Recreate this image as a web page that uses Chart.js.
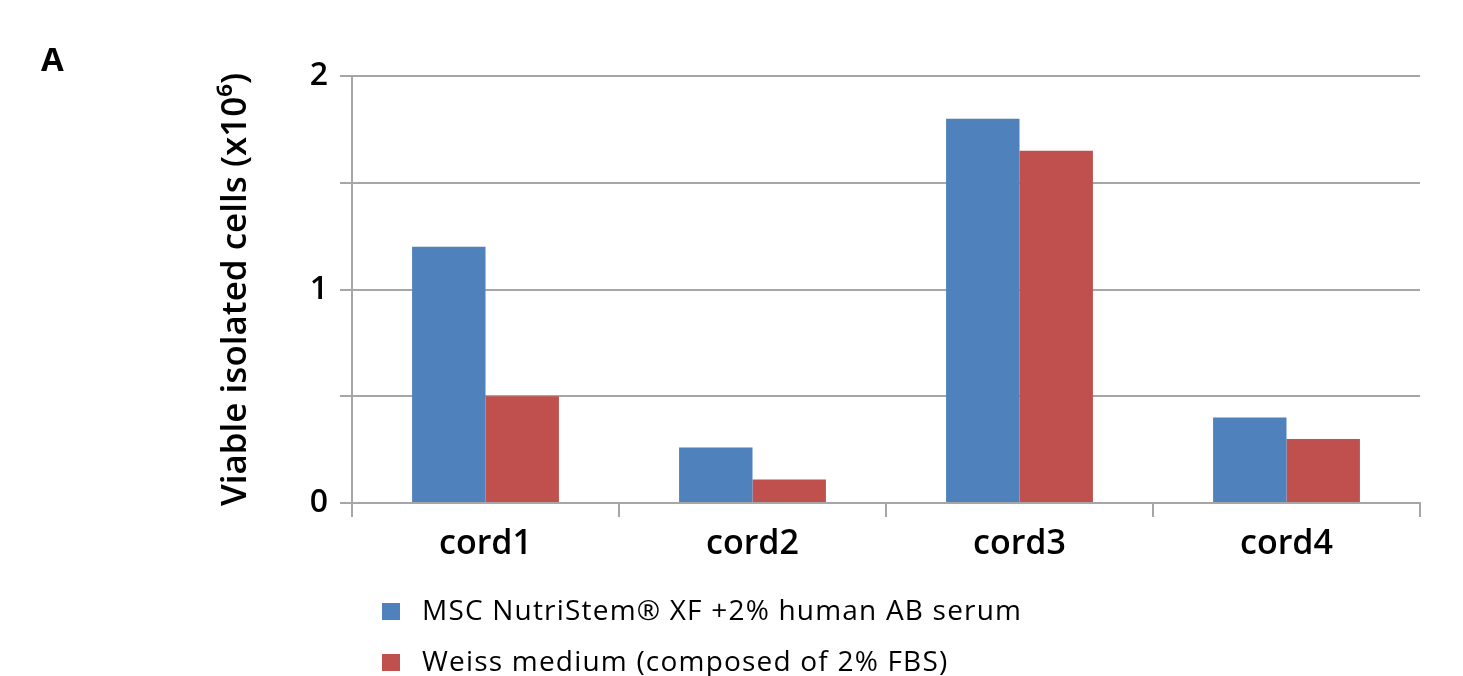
<!DOCTYPE html>
<html>
<head>
<meta charset="utf-8">
<script src="https://cdn.jsdelivr.net/npm/chart.js@4.4.1/dist/chart.umd.min.js"></script>
<style>
  html, body { margin: 0; padding: 0; background: #fff; }
  #wrap { position: relative; width: 1463px; height: 676px; }
  #panel { position: absolute; left: 41px; top: 36px; font: bold 33px "Open Sans", sans-serif; color: #000; }
</style>
</head>
<body>
<div id="wrap">
  <canvas id="myChart" width="1463" height="676"></canvas>
  <div id="panel">A</div>
</div>
<script>
var categories = ["cord1", "cord2", "cord3", "cord4"];
var nutriStem = [1.2, 0.26, 1.8, 0.4];
var weiss = [0.5, 0.11, 1.65, 0.3];
var seriesNames = ["MSC NutriStem\u00AE XF +2% human AB serum", "Weiss medium (composed of 2% FBS)"];
var seriesColors = ["#4f81bd", "#c0504d"];
var yTitle = "Viable isolated cells (x10\u2076)";

var gridColor = "#a6a6a6";
var fontName = "Open Sans";

// legend stacked in two rows under the plot
var stackedLegend = {
  id: "stackedLegend",
  afterDraw: (chart) => {
    var ctx = chart.ctx;
    var area = chart.chartArea;
    ctx.save();
    ctx.font = "28px '" + fontName + "', sans-serif";
    ctx.letterSpacing = "1.2px";
    ctx.textBaseline = "middle";
    chart.data.datasets.forEach((ds, i) => {
      var y = area.bottom + 108 + i * 51;
      ctx.fillStyle = ds.backgroundColor;
      ctx.fillRect(area.left + 30, y - 8, 18, 17);
      ctx.fillStyle = "#000";
      ctx.fillText(ds.label, area.left + 70, y + 1);
    });
    ctx.restore();
  },
};

createChart = () => {
  var ctx = document.getElementById("myChart").getContext("2d");
  new Chart(ctx, {
    type: "bar",
    data: {
      labels: categories,
      datasets: [
        { label: seriesNames[0], data: nutriStem, backgroundColor: seriesColors[0] },
        { label: seriesNames[1], data: weiss, backgroundColor: seriesColors[1] },
      ],
    },
    options: {
      responsive: false,
      animation: false,
      layout: { padding: { left: 200, right: 43, top: 76, bottom: 113 } },
      datasets: { bar: { categoryPercentage: 0.55, barPercentage: 1 } },
      plugins: {
        legend: { display: false },
        tooltip: { enabled: false },
      },
      scales: {
        x: {
          grid: {
            drawOnChartArea: false,
            drawTicks: true,
            tickLength: 14,
            color: gridColor,
            lineWidth: 2,
          },
          border: { color: gridColor, width: 2 },
          ticks: {
            color: "#000",
            padding: 7,
            font: { family: fontName, size: 34, weight: "600" },
          },
          afterFit: (scale) => {
            scale.height = 60;
          },
        },
        y: {
          min: 0,
          max: 2,
          grid: {
            color: gridColor,
            lineWidth: 2,
            tickLength: 12,
          },
          border: { color: gridColor, width: 2 },
          ticks: {
            stepSize: 0.5,
            color: "#000",
            padding: 12,
            font: { family: fontName, size: 32, weight: "600" },
            callback: (v) => (v % 1 === 0 ? v : ""),
          },
          title: {
            display: true,
            text: yTitle,
            color: "#000",
            padding: { top: 15, bottom: 0 },
            font: { family: fontName, size: 35, weight: "600" },
          },
          afterFit: (scale) => {
            scale.width = 152;
          },
        },
      },
    },
    plugins: [stackedLegend],
  });
};

createChart();
</script>
</body>
</html>
